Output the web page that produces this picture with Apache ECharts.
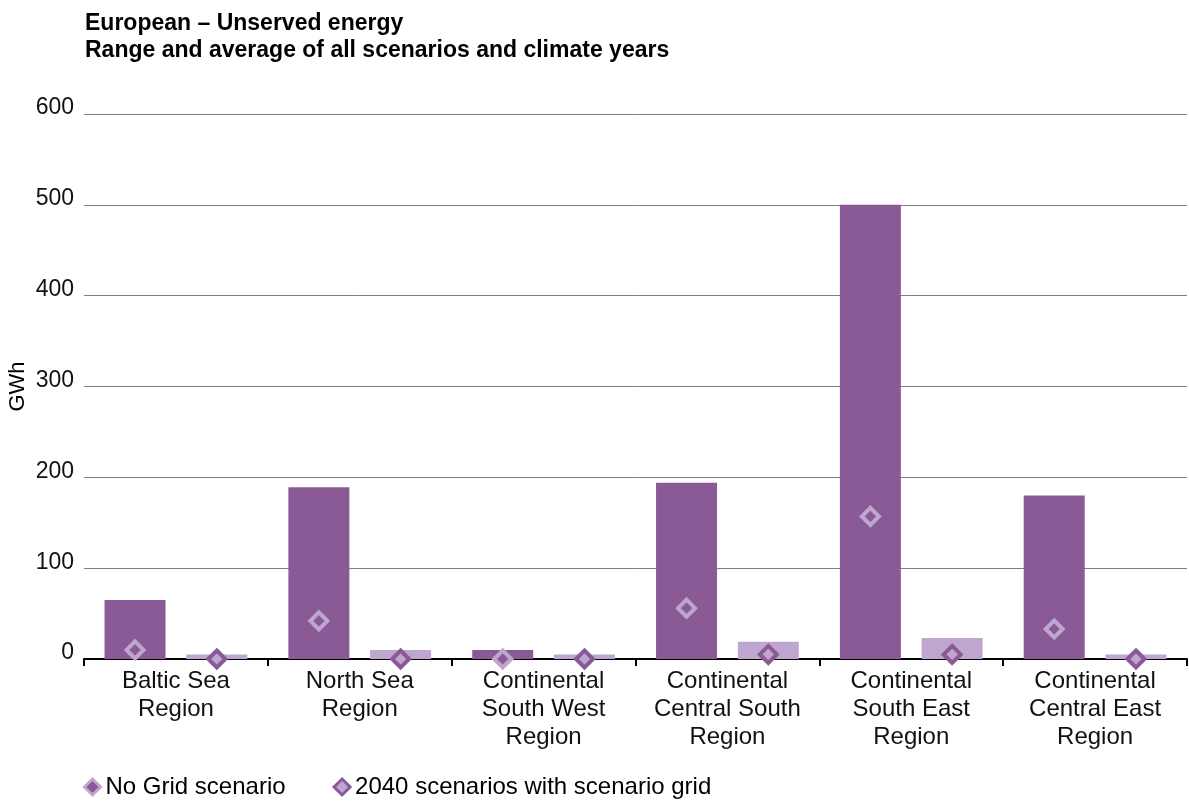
<!DOCTYPE html>
<html>
<head>
<meta charset="utf-8">
<script src="https://cdn.jsdelivr.net/npm/echarts@6/dist/echarts.min.js"></script>
<style>html,body{margin:0;padding:0;background:#fff;}#c{width:1189px;height:801px;}</style>
</head>
<body>
<div id="c"></div>
<script>
const categories = ['Baltic Sea\nRegion', 'North Sea\nRegion', 'Continental\nSouth West\nRegion', 'Continental\nCentral South\nRegion', 'Continental\nSouth East\nRegion', 'Continental\nCentral East\nRegion'];
const noGridMax = [65, 189, 10, 194, 500, 180];
const noGridAvg = [10, 42, 0, 56, 157, 33];
const gridMax = [5, 10, 5, 19, 23, 5];
const gridAvg = [0, 0, 0, 5, 5, 0];
const yTicks = [0, 100, 200, 300, 400, 500, 600];

const DARK = '#8a5a97';
const LIGHT = '#bea6ce';
const FONT = 'Liberation Sans, Arial, sans-serif';
const BAR_W = 61;
const BAR_GAP = '34%';

function diamondSeries(name, values, idx, fill, stroke) {
  return {
    name: name,
    type: 'custom',
    z: 5,
    clip: false,
    itemStyle: { color: fill, borderColor: stroke },
    encode: { x: 0, y: 1 },
    data: values.map((v, i) => [i, v]),
    renderItem: function (params, api) {
      const pt = api.coord([api.value(0), api.value(1)]);
      const layout = api.barLayout({ barWidth: BAR_W, barGap: BAR_GAP, count: 2 });
      const cx = pt[0] + layout[idx].offsetCenter;
      const cy = pt[1];
      const r = 8.5;
      return {
        type: 'polygon',
        shape: { points: [[cx, cy - r], [cx + r, cy], [cx, cy + r], [cx - r, cy]] },
        style: { fill: fill, stroke: stroke, lineWidth: 4 }
      };
    }
  };
}

const chart = echarts.init(document.getElementById('c'));
chart.setOption({
  animation: false,
  backgroundColor: '#fff',
  textStyle: { fontFamily: FONT },
  title: {
    text: 'European – Unserved energy\nRange and average of all scenarios and climate years',
    left: 80, top: 5,
    textStyle: { fontSize: 23, fontWeight: 'bold', color: '#000', lineHeight: 27, fontFamily: FONT }
  },
  legend: {
    left: 83, top: 775, padding: 0,
    itemWidth: 16, itemHeight: 16, itemGap: 47,
    textStyle: { fontSize: 24, color: '#000', fontFamily: FONT },
    data: [
      { name: 'No Grid scenario', icon: 'diamond', itemStyle: { color: DARK, borderColor: LIGHT, borderWidth: 3 } },
      { name: '2040 scenarios with scenario grid', icon: 'diamond', itemStyle: { color: LIGHT, borderColor: DARK, borderWidth: 3 } }
    ]
  },
  grid: { left: 84, right: 2, top: 114, bottom: 142, containLabel: false, outerBoundsMode: 'none' },
  xAxis: {
    type: 'category',
    data: categories,
    boundaryGap: true,
    axisLine: { show: true, lineStyle: { color: '#000', width: 2 } },
    axisTick: { show: true, length: 7, lineStyle: { color: '#000', width: 2 } },
    axisLabel: { fontSize: 24, color: '#111', lineHeight: 28, margin: 8, interval: 0, fontFamily: FONT },
    splitLine: { show: false }
  },
  yAxis: {
    type: 'value',
    min: yTicks[0], max: yTicks[yTicks.length - 1], interval: 100,
    name: 'GWh',
    nameLocation: 'middle',
    nameGap: 55,
    nameMoveOverlap: false,
    nameRotate: 90,
    nameTextStyle: { fontSize: 22, color: '#000', fontFamily: FONT },
    axisLine: { show: false },
    axisTick: { show: false },
    axisLabel: { fontSize: 23, color: '#111', margin: 10, verticalAlign: 'bottom', lineHeight: 12, fontFamily: FONT },
    splitLine: { show: true, lineStyle: { color: '#7f7f7f', width: 1 } }
  },
  series: [
    { name: 'No Grid range', type: 'bar', data: noGridMax, barWidth: BAR_W, barGap: BAR_GAP, itemStyle: { color: DARK } },
    { name: 'Grid range', type: 'bar', data: gridMax, barWidth: BAR_W, barGap: BAR_GAP, itemStyle: { color: LIGHT } },
    diamondSeries('No Grid scenario', noGridAvg, 0, DARK, LIGHT),
    diamondSeries('2040 scenarios with scenario grid', gridAvg, 1, LIGHT, DARK)
  ]
});
</script>
</body>
</html>
